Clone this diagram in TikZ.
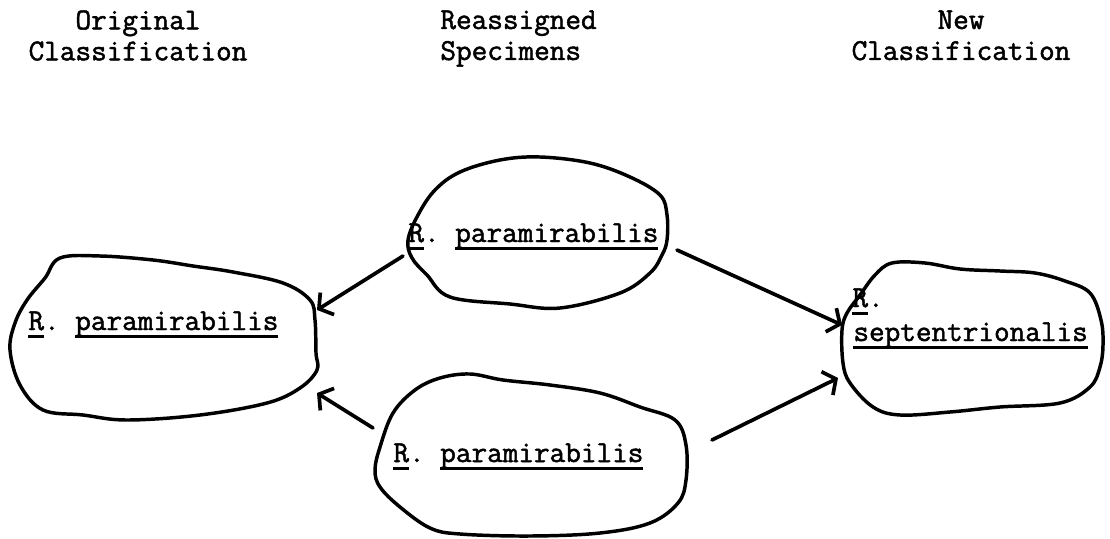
\documentclass[tikz,border=0pt]{standalone}
\usepackage{fontspec}
\setmonofont{Latin Modern Mono}[FakeBold=1.6]
\usepackage{tikz}
\usetikzlibrary{arrows.meta,positioning}

\newcommand{\ulword}[1]{\setbox0\hbox{#1}\rlap{\rule[-3.6pt]{\wd0}{1.4pt}}\box0}

\begin{document}
\begin{tikzpicture}[x=0.4615pt,y=-0.4615pt,
  every node/.style={inner sep=0pt,font=\ttfamily\fontsize{14pt}{14.3pt}\selectfont},
  head/.style={align=center,anchor=north},
  spec/.style={anchor=base west},
  blob/.style={line width=1.6pt,line join=round},
  reassign/.style={line width=1.7pt,line cap=round,-{Straight Barb[length=4.5pt,width=12pt]}}]

  \useasboundingbox (0,0) rectangle (1110,538);

  % Column headings
  \node[head] (orig) at (138,10) {Original\\Classification};
  \node[head,align=left,anchor=north west] (reas) at (440,10) {Reassigned\\Specimens};
  \node[head] (new) at (961,10) {New\\Classification};

  % Outlines of the groups
  \draw[blob] plot[smooth cycle,tension=0.6] coordinates {(60,258) (100,256) (153,260)
    (193,266) (233,272) (283,283) (310,300) (315,320) (316,353) (317,370) (300,388)
    (267,403) (200,415) (127,420) (83,415) (43,410) (20,385) (10,350) (15,323)
    (27,300) (45,278)};
  \draw[blob] plot[smooth cycle,tension=0.6] coordinates {(408,240) (418,215) (435,190)
    (460,172) (500,160) (540,157) (590,163) (630,177) (660,195) (667,215) (667,240)
    (662,255) (650,273) (620,293) (560,308) (510,304) (450,297) (427,275) (412,258)};
  \draw[blob] plot[smooth cycle,tension=0.6] coordinates {(440,378) (470,374) (503,380)
    (550,385) (600,393) (640,407) (675,420) (686,445) (686,480) (678,503) (650,523)
    (600,533) (530,536) (460,534) (430,528) (400,507) (380,487) (375,470) (380,447)
    (393,413) (415,390)};
  \draw[blob] plot[smooth cycle,tension=0.6] coordinates {(860,295) (875,275) (892,263)
    (925,263) (960,269) (1000,271) (1035,273) (1065,281) (1090,293) (1101,320)
    (1103,345) (1100,367) (1090,387) (1060,403) (1000,407) (950,412) (900,415)
    (873,407) (850,383) (843,363) (842,330) (847,313)};

  % Names of the species
  \node[spec] (origsp) at (28,330) {\ulword{R}. \ulword{paramirabilis}};
  \node[spec] (topsp) at (408,242) {\ulword{R}. \ulword{paramirabilis}};
  \node[spec] (botsp) at (393,462) {\ulword{R}. \ulword{paramirabilis}};
  \node[spec] (newgen) at (852,307) {\ulword{R}.};
  \node[spec] (newsp) at (853,341) {\ulword{septentrionalis}};

  % Arrow ends
  \coordinate (topL) at (403,256);
  \coordinate (topR) at (677,250);
  \coordinate (botL) at (373,428);
  \coordinate (botR) at (712,440);
  \coordinate (origA) at (317,310);
  \coordinate (origB) at (317,393);
  \coordinate (newA) at (842,325);
  \coordinate (newB) at (838,378);

  \draw[reassign] (topL) -- (origA);
  \draw[reassign] (botL) -- (origB);
  \draw[reassign] (topR) -- (newA);
  \draw[reassign] (botR) -- (newB);
\end{tikzpicture}
\end{document}
